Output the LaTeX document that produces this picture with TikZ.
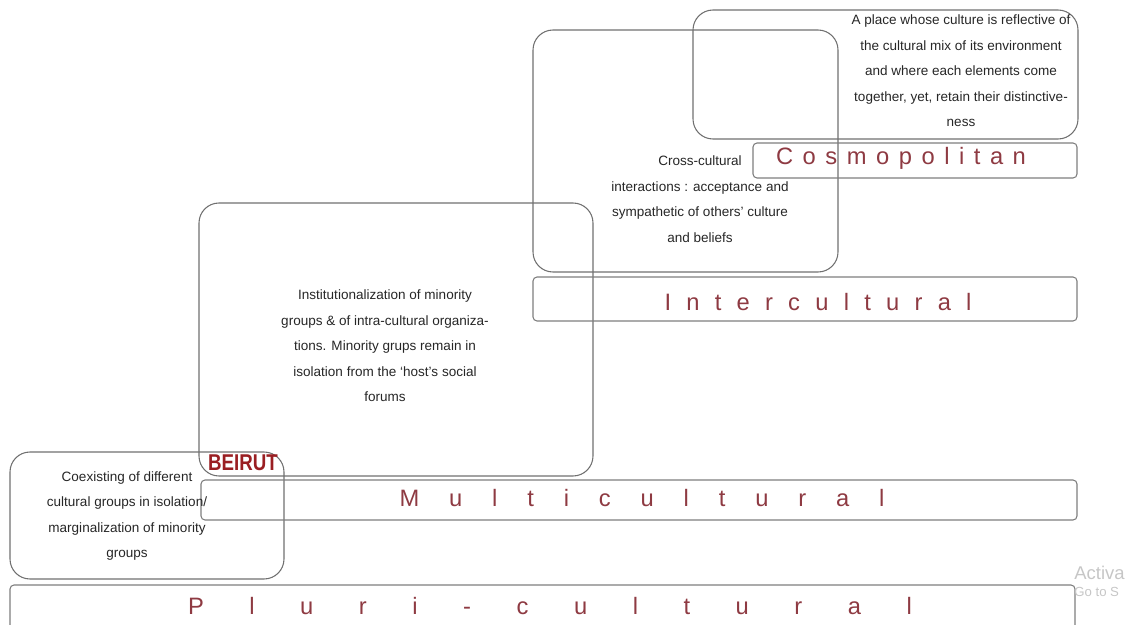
\documentclass[tikz,border=0pt]{standalone}
\usepackage{fontspec}
\setmainfont{Liberation Sans}
\usetikzlibrary{fit}
\definecolor{boxgray}{HTML}{707070}
\definecolor{labelred}{HTML}{8E3A42}
\definecolor{beirutred}{HTML}{9A1E22}
\tikzset{
descbox/.style={draw=boxgray, line width=0.6pt, rounded corners=0.4cm, inner sep=0pt}, % the large rounded frames
levelbar/.style={draw=boxgray!90, line width=0.6pt, rounded corners=0.08cm, inner sep=0pt}, % thin bars that carry the level names
desc/.style={align=center, text=black!85, font=\fontsize{7.7}{14.5}\selectfont}, % explanatory text
level/.style={text=labelred, inner sep=0pt, font=\fontsize{13.5}{16}\selectfont}, % spaced out level names
}
% spreads the letters of a word over a given width
\newcommand{\spreadword}[2]{\makebox[#1][s]{#2}}

\begin{document}
\begin{tikzpicture}[x=0.02cm, y=-0.02cm]
    \useasboundingbox (0,0) rectangle (1133,625);
    \clip (0,0) rectangle (1133,625);

    % frames
    \node[descbox, fit={(693,10) (1078,139)}] (cosmobox) {};
    \node[descbox, fit={(533,30) (838,272)}] (interbox) {};
    \node[descbox, fit={(199,203) (593,476)}] (multibox) {};
    \node[descbox, fit={(10,452) (284,579)}] (pluribox) {};

    % bars
    \node[levelbar, fit={(753,143) (1077,178)}] (cosmobar) {};
    \node[levelbar, fit={(533,277) (1077,321)}] (interbar) {};
    \node[levelbar, fit={(201,480) (1077,520)}] (multibar) {};
    \node[levelbar, fit={(10,585) (1075,650)}] (pluribar) {};

    % level names
    \node[level] (cosmo) at (901,158) {\spreadword{5cm}{C o s m o p o l i t a n}};
    \node[level] (inter) at (818,302) {\spreadword{6.14cm}{I n t e r c u l t u r a l}};
    \node[level] (multi) at (642,498) {\spreadword{9.7cm}{M u l t i c u l t u r a l}};
    \node[level] (pluri) at (550,606) {\spreadword{14.48cm}{P l u r i - c u l t u r a l}};

    % descriptions
    \node[desc] (cosmotext) at (961,71) {A place whose culture is reflective of\\ the cultural mix of its environment\\ and where each elements come\\ together, yet, retain their distinctive-\\ ness};
    \node[desc] (intertext) at (700,199) {Cross-cultural\\ interactions : acceptance and\\ sympathetic of others’ culture\\ and beliefs};
    \node[desc] (multitext) at (385,346) {Institutionalization of minority\\ groups \& of intra-cultural organiza-\\ tions. Minority grups remain in\\ isolation from the ‘host’s social\\ forums};
    \node[desc] (pluritext) at (127,516) {Coexisting of different\\ cultural groups in isolation/\\ marginalization of minority\\ groups};

    \node[text=beirutred, font=\fontsize{13}{13}\bfseries] (beirut) at (243,463) {\scalebox{0.82}[1]{BEIRUT}};

    % screen watermark
    \node[anchor=west, text=gray!45, inner sep=0pt, font=\fontsize{10.5}{10.5}\selectfont] (wmark) at (1074,573) {Activa};
    \node[anchor=west, text=gray!45, inner sep=0pt, font=\fontsize{7.5}{7.5}\selectfont] (wmarksub) at (1074,592) {Go to S};
\end{tikzpicture}
\end{document}
